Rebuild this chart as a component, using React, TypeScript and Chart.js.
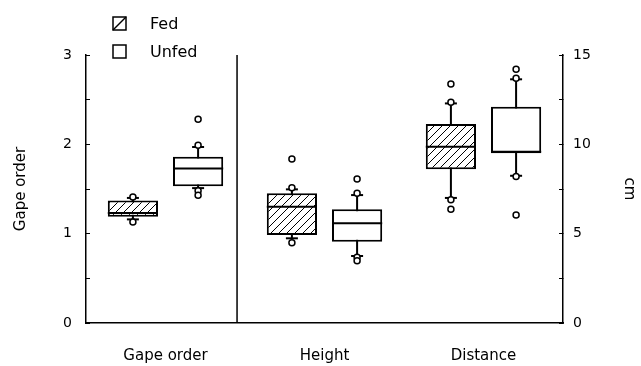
import React, { useEffect, useRef } from 'react';
import { Chart, registerables } from 'chart.js';

Chart.register(...registerables);

// ---------- data ----------
const CATEGORIES = ['Gape order', 'Height', 'Distance'];
// which y axis each category is measured on: left = gape order units, right = cm
const CATEGORY_AXIS = ['y', 'y2', 'y2'];
const SERIES = ['Fed', 'Unfed'];

const FED_Q1 = [1.19, 4.92, 8.6];
const FED_MEDIAN = [1.23, 6.51, 9.87];
const FED_Q3 = [1.37, 7.26, 11.14];
const FED_WHISKER_LOW = [1.16, 4.74, 7.0];
const FED_WHISKER_HIGH = [1.4, 7.48, 12.29];
const FED_POINTS = [
  [1.41, 1.13],
  [7.57, 9.18, 4.49],
  [12.35, 13.37, 6.9, 6.36],
];

const UNFED_Q1 = [1.53, 4.55, 9.5];
const UNFED_MEDIAN = [1.73, 5.58, 9.59];
const UNFED_Q3 = [1.86, 6.36, 12.1];
const UNFED_WHISKER_LOW = [1.51, 3.75, 8.24];
const UNFED_WHISKER_HIGH = [1.97, 7.16, 13.64];
const UNFED_POINTS = [
  [1.99, 2.28, 1.48, 1.43],
  [7.26, 8.06, 3.68, 3.49],
  [13.7, 14.2, 8.2, 6.04],
];

const LEFT_TICK_LABELS = [0, 1, 2, 3];
const RIGHT_TICK_LABELS = [0, 5, 10, 15];
const LEFT_MAX = 3;
const RIGHT_MAX = 15;
const DIVIDER_AT = 0.45; // in category units, between "Gape order" and "Height"

// ---------- style ----------
const FONT = 'DejaVu Sans';
const CAT_PCT = 0.82;
const BAR_PCT = 0.77;
const GROUP_OFFSET = CAT_PCT / 4;
const HALF_BOX = GROUP_OFFSET * BAR_PCT;

function makeHatch(): CanvasPattern | string {
  const c = document.createElement('canvas');
  const s = 8;
  c.width = s;
  c.height = s;
  const g = c.getContext('2d');
  if (!g) return '#fff';
  g.fillStyle = '#fff';
  g.fillRect(0, 0, s, s);
  g.strokeStyle = '#000';
  g.lineWidth = 1;
  g.beginPath();
  g.moveTo(-1, s + 1);
  g.lineTo(s + 1, -1);
  g.moveTo(-1, 1);
  g.lineTo(1, -1);
  g.moveTo(s - 1, s + 1);
  g.lineTo(s + 1, s - 1);
  g.stroke();
  return g.createPattern(c, 'repeat') || '#fff';
}

const legendPlugin = {
  id: 'boxLegend',
  afterDraw(chart: any) {
    const ctx = chart.ctx;
    ctx.save();
    SERIES.forEach((name, i) => {
      const x = 113;
      const y = 17 + i * 28;
      const s = 13;
      ctx.fillStyle = '#fff';
      ctx.fillRect(x, y, s, s);
      ctx.strokeStyle = '#000';
      ctx.lineWidth = 1.5;
      ctx.strokeRect(x, y, s, s);
      if (i === 0) {
        ctx.beginPath();
        ctx.moveTo(x, y + s);
        ctx.lineTo(x + s, y);
        ctx.stroke();
      }
      ctx.fillStyle = '#000';
      ctx.font = `16px "${FONT}"`;
      ctx.textBaseline = 'middle';
      ctx.textAlign = 'left';
      ctx.fillText(name, 150, y + s / 2 + 1);
    });
    ctx.restore();
  },
};

function buildDatasets(hatch: CanvasPattern | string) {
  const groups = [
    { label: SERIES[0], q1: FED_Q1, med: FED_MEDIAN, q3: FED_Q3, lo: FED_WHISKER_LOW, hi: FED_WHISKER_HIGH, pts: FED_POINTS, off: -GROUP_OFFSET, fill: hatch },
    { label: SERIES[1], q1: UNFED_Q1, med: UNFED_MEDIAN, q3: UNFED_Q3, lo: UNFED_WHISKER_LOW, hi: UNFED_WHISKER_HIGH, pts: UNFED_POINTS, off: GROUP_OFFSET, fill: '#fff' },
  ];
  const datasets: any[] = [];
  for (const axis of ['y', 'y2']) {
    const idx = CATEGORIES.map((_, i) => i).filter((i) => CATEGORY_AXIS[i] === axis);
    for (const g of groups) {
      datasets.push({
        type: 'bar',
        label: g.label,
        xAxisID: 'x2',
        yAxisID: axis,
        data: idx.map((i) => ({ x: i + g.off, y: [g.q1[i], g.q3[i]] })),
        backgroundColor: g.fill,
        borderColor: '#000',
        borderWidth: 2,
        borderSkipped: false,
        grouped: false,
        categoryPercentage: 1,
        barPercentage: BAR_PCT,
        order: 3,
      });
      datasets.push({
        type: 'line',
        label: g.label + ' whiskers',
        xAxisID: 'x2',
        yAxisID: axis,
        data: idx.flatMap((i) => [
          { x: i + g.off, y: g.lo[i] },
          { x: i + g.off, y: g.hi[i] },
          { x: i + g.off, y: null },
        ]),
        borderColor: '#000',
        borderWidth: 2,
        pointRadius: 0,
        spanGaps: false,
        order: 4,
      });
      datasets.push({
        type: 'line',
        label: g.label + ' median',
        xAxisID: 'x2',
        yAxisID: axis,
        data: idx.flatMap((i) => [
          { x: i + g.off - HALF_BOX, y: g.med[i] },
          { x: i + g.off + HALF_BOX, y: g.med[i] },
          { x: i + g.off + HALF_BOX, y: null },
        ]),
        borderColor: '#000',
        borderWidth: 2,
        pointRadius: 0,
        spanGaps: false,
        order: 2,
      });
      datasets.push({
        type: 'line',
        label: g.label + ' caps',
        xAxisID: 'x2',
        yAxisID: axis,
        data: idx.flatMap((i) => [
          { x: i + g.off, y: g.lo[i] },
          { x: i + g.off, y: g.hi[i] },
        ]),
        showLine: false,
        pointStyle: 'line',
        pointRadius: 6,
        pointBorderWidth: 2,
        pointBorderColor: '#000',
        order: 1,
      });
      datasets.push({
        type: 'line',
        label: g.label + ' points',
        xAxisID: 'x2',
        yAxisID: axis,
        data: idx.flatMap((i) => g.pts[i].map((v) => ({ x: i + g.off, y: v }))),
        showLine: false,
        pointStyle: 'circle',
        pointRadius: 3,
        pointBorderWidth: 1.5,
        pointBorderColor: '#000',
        pointBackgroundColor: '#fff',
        order: 0,
      });
    }
  }
  datasets.push({
    type: 'line',
    label: 'divider',
    xAxisID: 'x2',
    yAxisID: 'y',
    data: [
      { x: DIVIDER_AT, y: 0 },
      { x: DIVIDER_AT, y: LEFT_MAX },
    ],
    borderColor: '#000',
    borderWidth: 1.5,
    pointRadius: 0,
    order: 5,
  });
  return datasets;
}

export default function App() {
  const ref = useRef<HTMLCanvasElement | null>(null);

  useEffect(() => {
    document.body.style.margin = '0';
    const canvas = ref.current;
    if (!canvas) return;
    const hatch = makeHatch();
    const tickFont = { family: FONT, size: 14 };
    const labelFont = { family: FONT, size: 15 };
    const chart = new Chart(canvas, {
      type: 'bar',
      data: { labels: CATEGORIES, datasets: buildDatasets(hatch) },
      options: {
        animation: false,
        responsive: true,
        maintainAspectRatio: false,
        layout: { padding: { top: 55, left: 0, right: 0, bottom: 0 } },
        plugins: { legend: { display: false }, tooltip: { enabled: false } },
        scales: {
          x: {
            type: 'category',
            position: 'bottom',
            offset: true,
            grid: { display: false },
            border: { display: true, color: '#000', width: 1.5 },
            ticks: { color: '#000', font: labelFont, padding: 16 },
            afterFit: (s: any) => {
              s.height = 43;
            },
          },
          x2: { type: 'linear', display: false, min: -0.5, max: 2.5, offset: false },
          y: {
            position: 'left',
            min: 0,
            max: LEFT_MAX,
            ticks: {
              stepSize: 0.5,
              autoSkip: false,
              color: '#000',
              font: tickFont,
              padding: 18,
              callback: (v: any) => (LEFT_TICK_LABELS.includes(Number(v)) ? String(v) : ''),
            },
            grid: { drawOnChartArea: false, drawTicks: true, tickLength: -4, color: '#000', lineWidth: 1 },
            border: { display: true, color: '#000', width: 1.5 },
            title: { display: true, text: 'Gape order', color: '#000', font: labelFont, padding: { top: 12, bottom: 0 } },
            afterFit: (s: any) => {
              s.width = 86;
            },
          },
          y2: {
            position: 'right',
            min: 0,
            max: RIGHT_MAX,
            ticks: {
              stepSize: 2.5,
              autoSkip: false,
              color: '#000',
              font: tickFont,
              padding: 14,
              callback: (v: any) => (RIGHT_TICK_LABELS.includes(Number(v)) ? String(v) : ''),
            },
            grid: { drawOnChartArea: false, drawTicks: true, tickLength: -4, color: '#000', lineWidth: 1 },
            border: { display: true, color: '#000', width: 1.5 },
            title: { display: true, text: 'cm', color: '#000', font: labelFont, padding: { top: 3, bottom: 0 } },
            afterFit: (s: any) => {
              s.width = 78;
            },
          },
        },
      } as any,
      plugins: [legendPlugin],
    });
    return () => chart.destroy();
  }, []);

  return (
    <div style={{ position: 'relative', width: 641, height: 366 }}>
      <canvas ref={ref} />
    </div>
  );
}
